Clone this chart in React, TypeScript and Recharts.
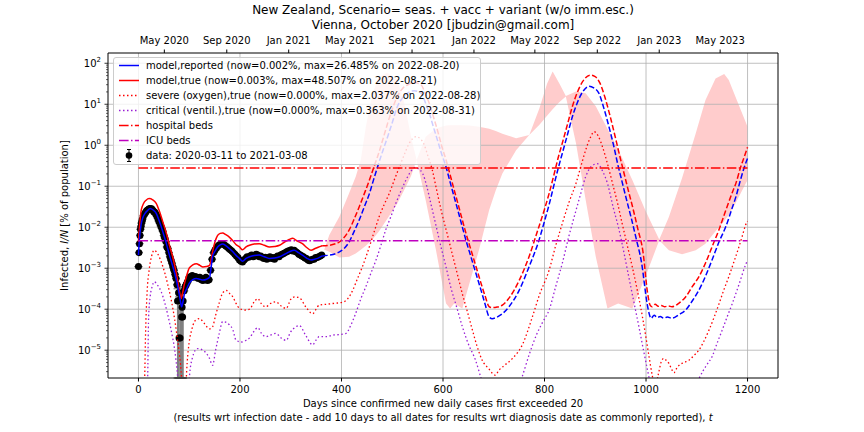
import React from 'react';
import { ComposedChart, Line, Area, Scatter, ErrorBar, XAxis, YAxis, ReferenceLine } from 'recharts';

const W = 864;
const H = 432;
const FONT = '"DejaVu Sans", Verdana, sans-serif';
const PLOT_LEFT = 108;
const X_MIN = -60;
const X_MAX = 1260;
const Y_MIN = 2.1e-6;
const Y_MAX = 178;
const NOW_DAY = 362;

// day since 2020-03-11, log10 of value in % of population
const reportedPts: [number, number][] = [
  [0, -2.68], [2, -2.28], [5, -1.95], [8, -1.79], [13, -1.66], [18, -1.59], [23, -1.54], [29, -1.58],
  [35, -1.66], [41, -1.85], [48, -2.11], [55, -2.4], [61, -2.68], [68, -2.97], [74, -3.25], [79, -3.55],
  [83, -3.82], [85, -3.94], [88, -3.8], [90, -3.66], [95, -3.5], [100, -3.37], [107, -3.28], [114, -3.25],
  [121, -3.27], [127, -3.29], [134, -3.27], [140, -3.22], [143, -3.0], [146, -2.72], [151, -2.58], [156, -2.48],
  [161, -2.43], [166, -2.41], [172, -2.45], [179, -2.52], [186, -2.6], [192, -2.68], [199, -2.76], [205, -2.83],
  [212, -2.76], [219, -2.72], [228, -2.69], [238, -2.68], [248, -2.72], [258, -2.76], [268, -2.75], [278, -2.72],
  [288, -2.66], [297, -2.6], [307, -2.56], [315, -2.62], [323, -2.68], [332, -2.76], [340, -2.8], [347, -2.78],
  [353, -2.76], [362, -2.7], [376, -2.68], [389, -2.64], [396, -2.6], [405, -2.52], [415, -2.36], [425, -2.1],
  [435, -1.82], [445, -1.5], [455, -1.18], [463, -0.85], [471, -0.53], [481, -0.15], [491, 0.21], [500, 0.55],
  [510, 0.94], [520, 1.15], [530, 1.27], [543, 1.33], [557, 1.27], [565, 1.05], [573, 0.78], [581, 0.45],
  [589, 0.13], [597, -0.2], [606, -0.53], [614, -0.9], [622, -1.26], [630, -1.62], [638, -1.99], [646, -2.35],
  [655, -2.72], [665, -3.13], [675, -3.54], [683, -3.88], [691, -4.19], [697, -4.23], [705, -4.2], [717, -4.11],
  [730, -3.94], [750, -3.54], [770, -2.95], [789, -2.32], [800, -1.85], [809, -1.45], [818, -1.0], [827, -0.56],
  [835, -0.2], [845, 0.25], [855, 0.7], [865, 1.05], [875, 1.3], [888, 1.44], [897, 1.4], [907, 1.27],
  [917, 0.9], [927, 0.45], [937, -0.05], [944, -0.45], [952, -0.85], [961, -1.3], [971, -1.78], [981, -2.3],
  [991, -2.85], [1002, -3.85], [1006, -4.1], [1010, -4.22], [1016, -4.15], [1022, -4.2], [1028, -4.18], [1035, -4.22],
  [1042, -4.19], [1051, -4.22], [1065, -4.13], [1078, -4.02], [1091, -3.8], [1104, -3.54], [1117, -3.2], [1130, -2.8],
  [1144, -2.35], [1157, -1.99], [1170, -1.52], [1177, -1.26], [1186, -0.85], [1193, -0.56], [1200, -0.32],
];

const truePts: [number, number][] = [
  [0, -2.36], [3, -1.85], [5, -1.62], [10, -1.42], [15, -1.34], [21, -1.3], [28, -1.33], [35, -1.42],
  [41, -1.6], [48, -1.87], [55, -2.15], [61, -2.44], [68, -2.75], [74, -3.09], [78, -3.35], [81, -3.58],
  [84, -3.74], [87, -3.6], [90, -3.41], [95, -3.18], [100, -3.0], [107, -2.92], [114, -2.89], [121, -2.93],
  [127, -2.97], [134, -2.96], [140, -2.93], [143, -2.8], [146, -2.6], [151, -2.35], [156, -2.2], [161, -2.15],
  [166, -2.14], [172, -2.18], [179, -2.24], [186, -2.33], [192, -2.42], [199, -2.48], [205, -2.55], [212, -2.48],
  [219, -2.44], [228, -2.41], [238, -2.4], [248, -2.44], [258, -2.48], [268, -2.47], [278, -2.44], [288, -2.36],
  [297, -2.3], [304, -2.27], [312, -2.33], [323, -2.4], [332, -2.5], [340, -2.56], [348, -2.52], [356, -2.48],
  [362, -2.45], [376, -2.44], [389, -2.4], [396, -2.36], [405, -2.25], [415, -2.07], [425, -1.8], [435, -1.5],
  [445, -1.18], [455, -0.85], [463, -0.56], [471, -0.28], [481, 0.12], [491, 0.54], [500, 0.88], [510, 1.19],
  [520, 1.38], [530, 1.47], [543, 1.53], [557, 1.47], [565, 1.27], [573, 1.02], [581, 0.7], [589, 0.37],
  [597, 0.0], [606, -0.36], [614, -0.72], [622, -1.09], [630, -1.45], [638, -1.82], [646, -2.18], [655, -2.55],
  [665, -2.96], [675, -3.37], [683, -3.68], [691, -3.94], [697, -3.96], [705, -3.95], [717, -3.9], [730, -3.73],
  [750, -3.3], [770, -2.7], [786, -2.1], [800, -1.56], [809, -1.18], [818, -0.75], [827, -0.3], [835, 0.05],
  [845, 0.5], [855, 0.95], [865, 1.3], [875, 1.55], [890, 1.71], [899, 1.68], [909, 1.52], [919, 1.17],
  [929, 0.72], [939, 0.22], [947, -0.2], [955, -0.6], [964, -1.05], [974, -1.53], [984, -2.05], [994, -2.6],
  [1003, -3.6], [1008, -3.9], [1012, -3.94], [1018, -3.88], [1024, -3.93], [1030, -3.91], [1037, -3.94], [1044, -3.92],
  [1051, -3.94], [1065, -3.85], [1078, -3.7], [1091, -3.45], [1104, -3.21], [1117, -2.88], [1130, -2.48], [1144, -2.05],
  [1157, -1.59], [1170, -1.15], [1177, -0.93], [1186, -0.55], [1193, -0.3], [1200, -0.05],
];

const severePts: [number, number][] = [
  [8, -6.5], [12, -5.8], [14, -4.6], [17, -3.6], [21, -3.05], [26, -2.7], [31, -2.56], [38, -2.65],
  [45, -2.85], [52, -3.12], [58, -3.41], [65, -3.8], [71, -4.22], [76, -4.65], [81, -5.12], [85, -5.7],
  [88, -6.5], [92, -6.2], [96, -5.3], [100, -4.8], [105, -4.5], [110, -4.31], [115, -4.25], [120, -4.23],
  [130, -4.35], [140, -4.48], [146, -4.43], [152, -4.15], [159, -3.85], [166, -3.6], [173, -3.54], [180, -3.62],
  [186, -3.7], [192, -3.85], [199, -3.98], [209, -4.02], [219, -4.0], [228, -3.82], [235, -3.74], [243, -3.88],
  [251, -3.94], [260, -3.86], [271, -3.82], [281, -3.92], [291, -3.98], [300, -3.76], [308, -3.7], [317, -3.72],
  [330, -3.95], [343, -4.11], [350, -4.0], [356, -3.9], [370, -3.88], [383, -3.86], [402, -3.83], [412, -3.75],
  [422, -3.54], [431, -3.27], [441, -2.97], [450, -2.66], [458, -2.36], [466, -2.05], [474, -1.75], [484, -1.45],
  [494, -1.18], [504, -0.85], [514, -0.53], [524, -0.22], [533, 0.04], [540, 0.16], [547, 0.21], [555, 0.16],
  [562, 0.04], [570, -0.25], [579, -0.61], [588, -1.12], [598, -1.67], [608, -2.15], [618, -2.64], [628, -3.13],
  [638, -3.62], [648, -4.06], [658, -4.51], [667, -4.9], [677, -5.24], [690, -5.45], [703, -5.61], [710, -5.49],
  [720, -5.38], [737, -5.2], [757, -4.85], [776, -4.19], [790, -3.65], [809, -3.05], [822, -2.45], [835, -1.91],
  [848, -1.4], [862, -0.93], [872, -0.5], [881, -0.12], [890, 0.18], [898, 0.33], [906, 0.22], [914, -0.03],
  [924, -0.45], [934, -0.93], [944, -1.42], [953, -1.91], [963, -2.44], [973, -2.97], [983, -3.55], [993, -4.19],
  [1000, -4.7], [1006, -5.16], [1012, -5.6], [1018, -5.9], [1024, -5.6], [1030, -5.28], [1035, -5.2], [1040, -5.25],
  [1045, -5.32], [1050, -5.45], [1055, -5.55], [1060, -5.45], [1065, -5.37], [1075, -5.3], [1085, -5.24], [1095, -5.12],
  [1104, -5.0], [1114, -4.78], [1124, -4.51], [1134, -4.2], [1144, -3.86], [1153, -3.54], [1163, -3.21], [1173, -2.85],
  [1183, -2.48], [1190, -2.2], [1196, -1.95], [1200, -1.85],
];

const criticalPts: [number, number][] = [
  [14, -7], [18, -5.8], [20, -4.2], [23, -3.7], [27, -3.45], [31, -3.33], [38, -3.42], [45, -3.58],
  [52, -3.85], [58, -4.15], [65, -4.55], [71, -4.96], [77, -5.61], [82, -6.5], [90, -7], [98, -6.0],
  [102, -5.45], [106, -5.2], [112, -5.0], [117, -4.96], [124, -4.98], [132, -5.05], [140, -5.2], [146, -5.37],
  [152, -5.0], [159, -4.6], [166, -4.3], [173, -4.32], [179, -4.38], [186, -4.5], [192, -4.75], [202, -4.8],
  [210, -4.77], [219, -4.7], [227, -4.55], [235, -4.45], [243, -4.6], [251, -4.67], [260, -4.63], [271, -4.59],
  [281, -4.7], [291, -4.76], [300, -4.55], [310, -4.43], [317, -4.4], [330, -4.65], [343, -4.87], [350, -4.75],
  [356, -4.67], [370, -4.67], [383, -4.63], [395, -4.62], [409, -4.59], [418, -4.4], [428, -4.1], [438, -3.75],
  [448, -3.45], [458, -3.12], [468, -2.8], [478, -2.43], [487, -2.07], [497, -1.75], [507, -1.42], [517, -1.12],
  [527, -0.85], [536, -0.65], [545, -0.54], [552, -0.58], [560, -0.69], [568, -1.0], [576, -1.42], [586, -1.95],
  [596, -2.48], [606, -2.97], [615, -3.45], [627, -3.95], [638, -4.42], [650, -4.85], [664, -5.24], [675, -5.68],
  [690, -6.2], [710, -6.5], [730, -6.3], [745, -6.0], [755, -5.68], [770, -5.1], [785, -4.6], [797, -4.3],
  [809, -4.02], [822, -3.45], [835, -2.88], [848, -2.22], [862, -1.59], [872, -1.15], [881, -0.77], [892, -0.52],
  [904, -0.45], [914, -0.62], [924, -0.93], [935, -1.5], [947, -2.07], [957, -2.65], [966, -3.21], [976, -3.82],
  [986, -4.43], [995, -5.0], [1003, -5.49], [1010, -5.9], [1030, -6.5], [1060, -6.6], [1090, -6.2], [1105, -5.68],
  [1120, -5.35], [1130, -5.16], [1140, -4.83], [1150, -4.51], [1160, -4.18], [1170, -3.86], [1183, -3.4], [1196, -2.92],
  [1200, -2.8],
];

// uncertainty band: [day, edge A, edge B] (log10 %), the two edges cross several times
const bandPts: [number, number, number][] = [
  [366, -2.55, -2.55], [376, -2.19, -2.6], [396, -1.74, -2.74], [415, -1.17, -2.72], [428, -0.77, -2.64],
  [438, -0.36, -2.55], [448, 0.45, -2.45], [461, 1.27, -2.3], [474, 1.67, -2.1], [490, 1.77, -1.8],
  [510, 1.59, -1.42], [524, 1.02, -1.08], [537, 0.21, -0.75], [548, -0.36, -0.36], [566, -1.35, 0.21],
  [586, -2.55, 0.41], [606, -3.86, 0.48], [614, -3.98, 0.49], [622, -3.86, 0.49], [638, -3.98, 0.49],
  [652, -3.37, 0.48], [671, -2.55, 0.45], [691, -1.58, 0.4], [704, -1.1, 0.35], [717, -0.69, 0.28],
  [744, -0.12, 0.17], [770, 0.25, 0.25], [790, 0.9, 0.5], [805, 1.5, 0.72], [816, 1.8, 0.88],
  [829, 1.51, 1.05], [842, 1.19, 1.2], [862, 0.05, 1.31], [881, -1.33, 1.27], [901, -2.72, 0.95],
  [924, -3.98, 0.4], [945, -3.86, -0.1], [973, -3.98, -0.85], [999, -3.2, -1.6], [1026, -2.3, -2.32],
  [1045, -1.75, -2.56], [1071, -0.8, -2.66], [1098, 0.29, -2.56], [1117, 1.1, -2.4], [1137, 1.63, -2.1],
  [1154, 1.74, -1.85], [1163, 1.59, -1.7], [1176, 1.19, -1.42], [1200, 0.45, -0.85],
];

// confirmed data, 2020-03-11 .. 2021-03-08
const observedPts: [number, number][] = [
  [0, -2.96], [1, -2.62], [2, -2.4], [3, -2.2], [4, -2.05], [5, -1.98], [6, -1.9], [7, -1.85], [8, -1.8],
  [10, -1.72], [12, -1.68], [14, -1.64], [16, -1.6], [18, -1.58], [20, -1.56], [22, -1.54], [24, -1.55],
  [26, -1.55], [28, -1.58], [30, -1.62], [32, -1.63], [34, -1.68], [36, -1.72], [38, -1.78], [40, -1.85],
  [42, -1.9], [44, -1.97], [46, -2.03], [48, -2.1], [50, -2.2], [52, -2.27], [54, -2.35], [56, -2.48],
  [58, -2.52], [60, -2.62], [62, -2.72], [64, -2.8], [66, -2.88], [68, -2.97], [70, -3.05], [72, -3.15],
  [74, -3.25], [76, -3.4], [77, -3.8], [79, -3.6], [80, -4.7], [82, -4.7], [83, -3.75], [85, -4.19],
  [86, -3.95], [87, -4.19], [88, -3.8], [90, -3.55], [92, -3.45], [94, -3.4], [96, -3.35], [98, -3.3],
  [100, -3.22], [103, -3.2], [106, -3.18], [109, -3.22], [112, -3.2], [115, -3.22], [118, -3.25], [121, -3.22],
  [124, -3.28], [127, -3.3], [130, -3.25], [133, -3.22], [136, -3.3], [139, -3.28], [142, -3.05], [145, -2.78],
  [148, -2.62], [151, -2.55], [154, -2.5], [157, -2.45], [160, -2.42], [163, -2.4], [166, -2.4], [169, -2.43],
  [172, -2.46], [175, -2.48], [178, -2.52], [181, -2.55], [184, -2.58], [187, -2.62], [190, -2.66], [193, -2.7],
  [196, -2.74], [199, -2.8], [202, -2.83], [205, -2.85], [208, -2.8], [211, -2.76], [214, -2.72], [217, -2.73],
  [220, -2.7], [223, -2.68], [226, -2.72], [229, -2.7], [232, -2.66], [235, -2.68], [238, -2.72], [241, -2.7],
  [244, -2.74], [247, -2.76], [250, -2.73], [253, -2.78], [256, -2.75], [259, -2.72], [262, -2.76], [265, -2.74],
  [268, -2.78], [271, -2.73], [274, -2.7], [277, -2.72], [280, -2.68], [283, -2.66], [286, -2.64], [289, -2.62],
  [292, -2.6], [295, -2.58], [298, -2.57], [301, -2.55], [304, -2.58], [307, -2.56], [310, -2.6], [313, -2.62],
  [316, -2.66], [319, -2.68], [322, -2.7], [325, -2.72], [328, -2.75], [331, -2.76], [334, -2.8], [337, -2.82],
  [340, -2.8], [343, -2.78], [346, -2.78], [349, -2.74], [352, -2.74], [355, -2.72], [358, -2.7], [361, -2.68],
];

// large error bars around the dip: [day, log10 of upper end]; lower end reaches 0
const errorTops: [number, number][] = [
  [77, -3.5], [79, -3.45], [80, -3.7], [82, -3.7], [83, -3.45], [85, -3.6], [86, -3.5], [87, -3.6], [88, -3.5],
];

const HOSPITAL_BEDS = 0.28;
const ICU_BEDS = 0.0047;

const bottomTicks = [0, 200, 400, 600, 800, 1000, 1200];
const topTickDays = [51, 174, 296, 416, 539, 661, 781, 904, 1026, 1146];
const topTickLabels = ['May 2020', 'Sep 2020', 'Jan 2021', 'May 2021', 'Sep 2021', 'Jan 2022', 'May 2022', 'Sep 2022', 'Jan 2023', 'May 2023'];
const yDecades = [1e-5, 1e-4, 1e-3, 1e-2, 1e-1, 1, 10, 100];

const yMinor: number[] = [];
for (let e = -6; e <= 2; e++) {
  for (let m = 2; m <= 9; m++) {
    const v = m * Math.pow(10, e);
    if (v >= Y_MIN && v <= Y_MAX) yMinor.push(v);
  }
}
const yTicks = [...yDecades, ...yMinor].sort((a, b) => a - b);

const pct = (l: number) => Math.pow(10, l);
const toRows = (pts: [number, number][], from = -Infinity, to = Infinity) =>
  pts.filter(([d]) => d >= from && d <= to).map(([day, l]) => ({ day, v: pct(l) }));

const reportedPast = toRows(reportedPts, -Infinity, NOW_DAY);
const reportedFuture = toRows(reportedPts, NOW_DAY, Infinity);
const truePast = toRows(truePts, -Infinity, NOW_DAY);
const trueFuture = toRows(truePts, NOW_DAY, Infinity);
const severeRows = toRows(severePts);
const criticalRows = toRows(criticalPts);
const bandRows = bandPts.map(([day, a, b]) => ({ day, range: [pct(Math.min(a, b)), pct(Math.max(a, b))] }));
const hospitalRows = [{ day: 0, v: HOSPITAL_BEDS }, { day: 1200, v: HOSPITAL_BEDS }];
const icuRows = [{ day: 0, v: ICU_BEDS }, { day: 1200, v: ICU_BEDS }];
const observedRows = observedPts.map(([day, l]) => {
  const v = pct(l);
  const e = errorTops.find(([d]) => d === day);
  return { day, v, err: e ? [v - Y_MIN, pct(e[1]) - v] : [0, 0] };
});

const DASH = '5.5 2.4';
const DOT = '1.5 2.5';
const DASHDOT = '9.6 2.4 1.5 2.4';
const BLUE = '#0000ff';
const RED = '#ff0000';
const PURPLE = '#9a1fd6';
const MAGENTA = '#bf00bf';

const BottomTick = (props: any) => (
  <text x={props.x} y={props.y + 9} textAnchor="middle" fontSize={10} fontFamily={FONT} fill="#000">
    {props.payload.value}
  </text>
);

const TopTick = (props: any) => {
  const i = topTickDays.indexOf(props.payload.value);
  return (
    <text x={props.x} y={props.y - 4} textAnchor="middle" fontSize={10} fontFamily={FONT} fill="#000">
      {topTickLabels[i]}
    </text>
  );
};

const YTick = (props: any) => {
  const v = props.payload.value;
  const major = yDecades.includes(v);
  const exp = Math.round(Math.log10(v));
  return (
    <g>
      <line x1={PLOT_LEFT - (major ? 3.5 : 2)} x2={PLOT_LEFT} y1={props.y} y2={props.y} stroke="#000" strokeWidth={major ? 0.8 : 0.6} />
      {major && (
        <text x={PLOT_LEFT - 7} y={props.y + 3.5} textAnchor="end" fontSize={10} fontFamily={FONT} fill="#000">
          10
          <tspan dy={-4.5} fontSize={7}>{exp < 0 ? '\u2212' + Math.abs(exp) : String(exp)}</tspan>
        </text>
      )}
    </g>
  );
};

const Dot = (props: any) => <circle cx={props.cx} cy={props.cy} r={3.5} fill="#000" />;

const legendRows = [
  { label: 'model,reported (now=0.002%, max=26.485% on 2022-08-20)', color: BLUE, dash: undefined },
  { label: 'model,true (now=0.003%, max=48.507% on 2022-08-21)', color: RED, dash: undefined },
  { label: 'severe (oxygen),true (now=0.000%, max=2.037% on 2022-08-28)', color: RED, dash: DOT },
  { label: 'critical (ventil.),true (now=0.000%, max=0.363% on 2022-08-31)', color: PURPLE, dash: DOT },
  { label: 'hospital beds', color: RED, dash: DASHDOT },
  { label: 'ICU beds', color: MAGENTA, dash: DASHDOT },
  { label: 'data: 2020-03-11 to 2021-03-08', color: '#000', dash: 'point' },
];

function ChartLegend() {
  return (
    <div
      style={{
        position: 'absolute', left: 113, top: 57, width: 368, height: 108, boxSizing: 'border-box',
        border: '1px solid #cccccc', borderRadius: 3, background: 'rgba(255,255,255,0.8)',
      }}
    >
      <svg width={366} height={106} style={{ position: 'absolute', left: 0, top: 0 }}>
        {legendRows.map((r, i) => {
          const y = 7.5 + i * 15;
          return (
            <g key={r.label}>
              {r.dash === 'point' ? (
                <g>
                  <line x1={15} x2={15} y1={y - 6} y2={y + 6} stroke="#000" strokeWidth={1} />
                  <line x1={13} x2={17} y1={y - 6} y2={y - 6} stroke="#000" strokeWidth={1} />
                  <line x1={13} x2={17} y1={y + 6} y2={y + 6} stroke="#000" strokeWidth={1} />
                  <circle cx={15} cy={y} r={3.3} fill="#000" />
                </g>
              ) : (
                <line x1={5} x2={25} y1={y} y2={y} stroke={r.color} strokeWidth={1.5} strokeDasharray={r.dash} />
              )}
              <text x={32} y={y + 3.6} fontSize={10} fontFamily={FONT} fill="#000">{r.label}</text>
            </g>
          );
        })}
      </svg>
    </div>
  );
}

export default function App() {
  return (
    <div style={{ position: 'absolute', left: 0, top: 0, width: W, height: H, background: '#fff' }}>
      <ComposedChart width={W} height={H} margin={{ top: 28, right: 86, bottom: 34, left: 58 }}>
        <XAxis
          type="number" dataKey="day" domain={[X_MIN, X_MAX]} ticks={bottomTicks} interval={0}
          tick={BottomTick} tickSize={3.5} height={20} stroke="#000" allowDataOverflow
        />
        <XAxis
          xAxisId="top" orientation="top" type="number" dataKey="day" domain={[X_MIN, X_MAX]}
          ticks={topTickDays} interval={0} tick={TopTick} tickSize={3.5} height={25} stroke="#000" allowDataOverflow
        />
        <YAxis
          dataKey="v" scale="log" domain={[Y_MIN, Y_MAX]} ticks={yTicks} interval={0} tick={YTick}
          tickLine={false} width={50} stroke="#000" allowDataOverflow
        />

        <Area data={bandRows} dataKey="range" type="linear" stroke="none" fill="#ffcccc" fillOpacity={1} isAnimationActive={false} zIndex={100} />

        {yDecades.map((d) => (
          <ReferenceLine key={'h' + d} y={d} stroke="#b0b0b0" strokeWidth={0.8} zIndex={150} />
        ))}
        {bottomTicks.map((d) => (
          <ReferenceLine key={'v' + d} x={d} stroke="#b0b0b0" strokeWidth={0.8} zIndex={150} />
        ))}
        <ReferenceLine x={X_MAX} stroke="#000" strokeWidth={1} />

        <Scatter data={observedRows} dataKey="v" shape={Dot} isAnimationActive={false} zIndex={300}>
          <ErrorBar dataKey="err" direction="y" width={4} stroke="#808080" strokeWidth={1.2} zIndex={290} />
        </Scatter>

        <Line data={severeRows} dataKey="v" type="monotone" stroke={RED} strokeWidth={1.3} strokeDasharray={DOT} dot={false} isAnimationActive={false} zIndex={400} />
        <Line data={criticalRows} dataKey="v" type="monotone" stroke={PURPLE} strokeWidth={1.3} strokeDasharray={DOT} dot={false} isAnimationActive={false} zIndex={400} />
        <Line data={truePast} dataKey="v" type="monotone" stroke={RED} strokeWidth={1.5} dot={false} isAnimationActive={false} zIndex={400} />
        <Line data={trueFuture} dataKey="v" type="monotone" stroke={RED} strokeWidth={1.5} strokeDasharray={DASH} dot={false} isAnimationActive={false} zIndex={400} />
        <Line data={reportedPast} dataKey="v" type="monotone" stroke={BLUE} strokeWidth={1.5} dot={false} isAnimationActive={false} zIndex={400} />
        <Line data={reportedFuture} dataKey="v" type="monotone" stroke={BLUE} strokeWidth={1.5} strokeDasharray={DASH} dot={false} isAnimationActive={false} zIndex={400} />
        <Line data={hospitalRows} dataKey="v" type="linear" stroke={RED} strokeWidth={1.5} strokeDasharray={DASHDOT} dot={false} isAnimationActive={false} zIndex={410} />
        <Line data={icuRows} dataKey="v" type="linear" stroke={MAGENTA} strokeWidth={1.5} strokeDasharray={DASHDOT} dot={false} isAnimationActive={false} zIndex={410} />
      </ComposedChart>

      <svg width={W} height={H} style={{ position: 'absolute', left: 0, top: 0, pointerEvents: 'none' }}>
        <text x={443} y={14} textAnchor="middle" fontSize={12} fontFamily={FONT} fill="#000">
          New Zealand, Scenario= seas. + vacc + variant (w/o imm.esc.)
        </text>
        <text x={443} y={29} textAnchor="middle" fontSize={12} fontFamily={FONT} fill="#000">
          Vienna, October 2020 [jbudzin@gmail.com]
        </text>
        <text x={443} y={407} textAnchor="middle" fontSize={10} fontFamily={FONT} fill="#000">
          Days since confirmed new daily cases first exceeded 20
        </text>
        <text x={443} y={421} textAnchor="middle" fontSize={10} fontFamily={FONT} fill="#000">
          (results wrt infection date - add 10 days to all dates for results wrt diagnosis date as commonly reported),{' '}
          <tspan fontStyle="italic">t</tspan>
        </text>
        <text x={68} y={215.5} transform="rotate(-90 68 215.5)" textAnchor="middle" fontSize={10} fontFamily={FONT} fill="#000">
          Infected, <tspan fontStyle="italic">I/N</tspan> [% of population]
        </text>
      </svg>

      <ChartLegend />
    </div>
  );
}
